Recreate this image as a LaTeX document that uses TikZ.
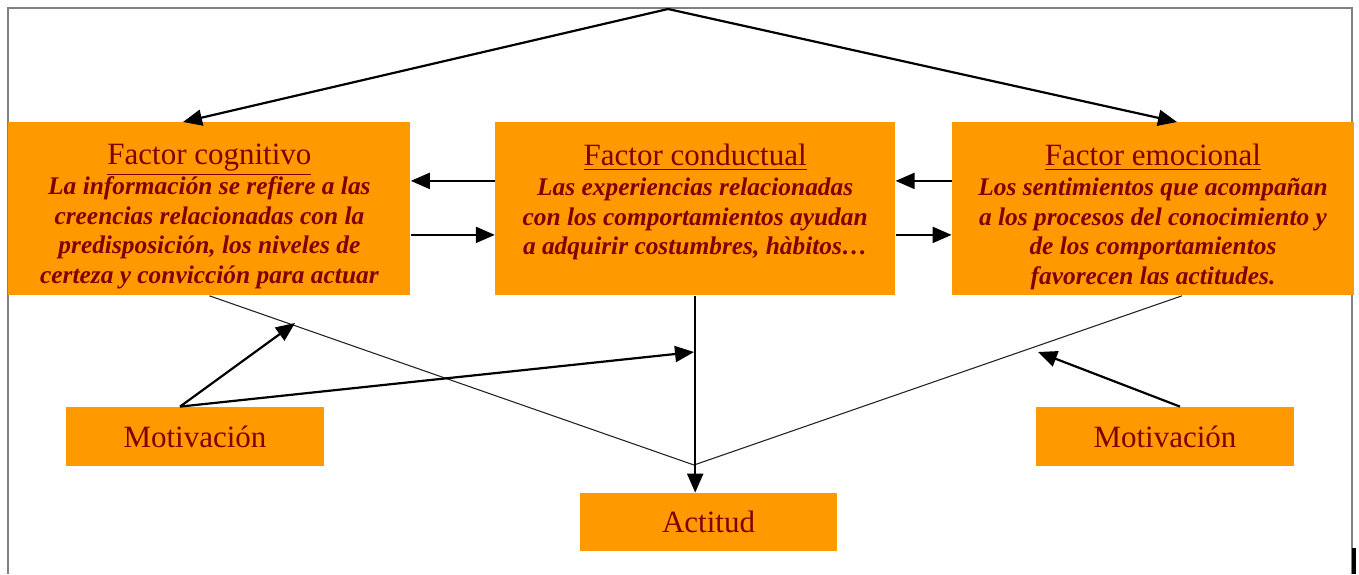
\documentclass[tikz,border=0pt]{standalone}
\usepackage{fontspec}
\setmainfont{Liberation Serif}
\usetikzlibrary{positioning,arrows.meta}

\definecolor{boxorange}{HTML}{FF9900}
\definecolor{txtred}{HTML}{800000}
\newcommand{\factortitle}[1]{{\mdseries\upshape\fontsize{15.5}{18}\selectfont\underline{#1}}}

\begin{document}
\begin{tikzpicture}[
  x=0.5pt, y=-0.5pt,
  factor/.style={
    fill=boxorange, minimum width=201pt, minimum height=86.5pt, inner sep=0pt
  },
  factortext/.style={
    inner sep=0pt, align=center, text=txtred,
    font=\bfseries\itshape\fontsize{12.7}{14.8}\selectfont
  },
  smallbox/.style={
    fill=boxorange, minimum width=129pt, minimum height=29.5pt,
    inner sep=0pt, text=txtred, font=\fontsize{15.5}{18}\selectfont
  },
  arr/.style={-{Triangle[length=9.5pt,width=8pt]}, line width=1.1pt},
  feed/.style={line width=0.55pt, black!85}
]
  \useasboundingbox (0,0) rectangle (1359,574);

  % Page frame
  \draw[gray, line width=0.7pt] (8,574) -- (8,8) -- (1352,8) -- (1352,574);
  \draw[line width=2pt] (1354,548) -- (1354,574);

  % Top row: the three factors
  \node[factor, anchor=north west] (cog) at (8,122) {};
  \node[factor, minimum width=200pt, right=42pt of cog] (cond) {};
  \node[factor, right=28pt of cond] (emo) {};

  \node[factortext, below=11pt of cog.north] (cogtxt)
    {\factortitle{Factor cognitivo}\\
     La información se refiere a las\\
     creencias relacionadas con la\\
     predisposición, los niveles de\\
     certeza y convicción para actuar};
  \node[factortext, below=11pt of cond.north] (condtxt)
    {\factortitle{Factor conductual}\\
     Las experiencias relacionadas\\
     con los comportamientos ayudan\\
     a adquirir costumbres, hàbitos\ldots};
  \node[factortext, below=11pt of emo.north] (emotxt)
    {\factortitle{Factor emocional}\\
     Los sentimientos que acompañan\\
     a los procesos del conocimiento y\\
     de los comportamientos\\
     favorecen las actitudes.};

  % Bottom boxes
  \node[smallbox] (motL) at (195,436.5) {Motivación};
  \node[smallbox] (motR) at (1165,436.5) {Motivación};
  \node[smallbox, minimum width=128.5pt, minimum height=29pt] (act) at (708.5,522) {Actitud};

  % Free ends
  \coordinate (apex)    at (668,9);
  \coordinate (cogin)   at (183,122);
  \coordinate (emoin)   at (1177,122);
  \coordinate (join)    at (694,465);
  \coordinate (cogmid)  at (295,323);
  \coordinate (condmid) at (694,352);
  \coordinate (emomid)  at (1038,352);

  % Arrows from the top
  \draw[arr] (apex) -- (cogin);
  \draw[arr] (apex) -- (emoin);

  % Arrows between factors
  \draw[arr] ([yshift=14pt]cond.west)  -- ([yshift=14pt]cog.east);
  \draw[arr] ([yshift=-13pt]cog.east)  -- ([yshift=-13pt]cond.west);
  \draw[arr] ([yshift=14pt]emo.west)   -- ([yshift=14pt]cond.east);
  \draw[arr] ([yshift=-13pt]cond.east) -- ([yshift=-13pt]emo.west);

  % Lines down to the attitude
  \draw[feed] (cog.south) -- (join);
  \draw[feed] ([xshift=14.5pt]emo.south) -- (join);
  \draw[arr] (cond.south) -- (cond.south |- act.north);

  % Motivation arrows
  \draw[arr] ([xshift=-7.5pt]motL.north) -- (cogmid);
  \draw[arr] ([xshift=-7.5pt]motL.north) -- (condmid);
  \draw[arr] ([xshift=7.5pt]motR.north) -- (emomid);

\end{tikzpicture}
\end{document}
